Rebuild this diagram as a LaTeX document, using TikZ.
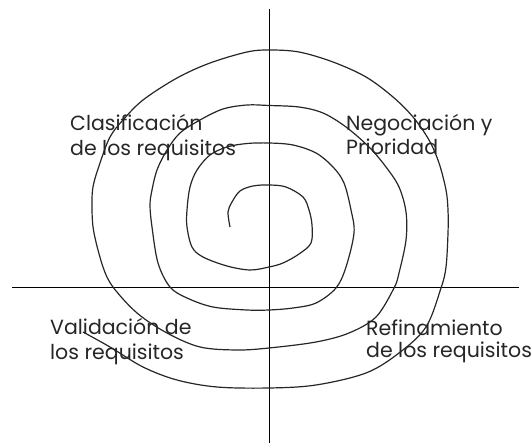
\documentclass[tikz,border=0pt]{standalone}
\usepackage{fontspec}
\setmainfont{Poppins}
\begin{document}
\begin{tikzpicture}[x=1pt,y=-1pt,
  axis/.style={line width=1.3pt,black},
  spiralline/.style={line width=1.2pt,black!85},
  lbl/.style={anchor=base west,inner sep=0pt,text=black!85,font=\fontsize{20.5}{25}\selectfont}]
\useasboundingbox (0,0) rectangle (532,443);
\coordinate (vtop) at (269.5,9);
\coordinate (vbot) at (269.5,443);
\coordinate (hl) at (12,287.5);
\coordinate (hr) at (519,287.5);
\draw[axis] (vtop) -- (vbot);
\draw[axis] (hl) -- (hr);
\draw[spiralline] plot[smooth,tension=0.55] coordinates {
(230,227) (228,212) (232,202) (240,191) (253,186) (269,185) (286,187) (303,197) (309,210) (312,225) (311,243) (299,254) (283,263) (269,267) (250,270) (227,266) (203,257) (192,247) (187,227) (187,210) (190,187) (197,170) (210,155) (227,147) (247,143.5) (269,143) (293,145) (316,153) (333,167) (344,183) (351,210) (354,233) (346,267) (336,288) (316,303) (293,308) (269,310) (247,310) (213,307) (187,298) (170,287) (158,263) (152,227) (150,205) (152,190) (157,170) (167,150) (180,133) (200,120) (223,109) (247,105) (269,105.5) (299,107) (323,113) (346,127) (369,147) (386,167) (399,187) (406,212) (406,240) (399,273) (394,288) (376,317) (349,333) (316,342) (269,348) (237,350) (200,347) (167,333) (137,313) (113,287) (103,267) (94,233) (92,210) (93,187) (100,163) (110,137) (123,120) (143,100) (177,78) (210,63) (247,52) (269,50) (299,52) (333,62) (366,77) (393,97) (413,117) (429,140) (439,163) (446,190) (448,210) (448,233) (446,267) (441,288) (426,327) (399,353) (366,373) (316,385) (269,388) (217,387) (177,380) (143,367) (110,347) (83,332)};
\node[lbl] (c1) at (70,131) {Clasificación};
\node[lbl] (c2) at (70,156) {de los requisitos};
\node[lbl] (n1) at (346,131) {Negociación y};
\node[lbl] (n2) at (346,155) {Prioridad};
\node[lbl] (v1) at (50,334) {Validación de};
\node[lbl] (v2) at (50,359) {los requisitos};
\node[lbl] (r1) at (366,335) {Refinamiento};
\node[lbl] (r2) at (366,357) {de los requisitos};
\end{tikzpicture}
\end{document}
